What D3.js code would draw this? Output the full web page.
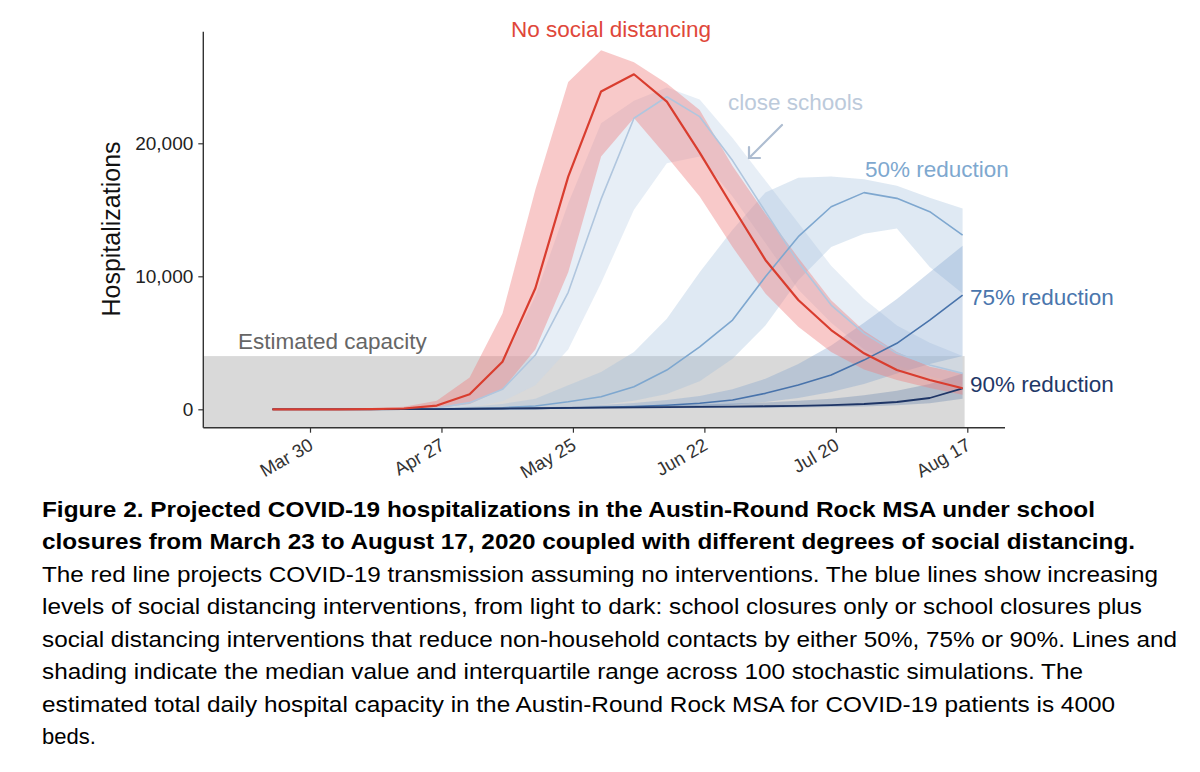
<!DOCTYPE html>
<html>
<head>
<meta charset="utf-8">
<script src="https://cdn.jsdelivr.net/npm/d3@7"></script>
<style>
  html, body { margin: 0; padding: 0; background: #fff; }
  svg { display: block; font-family: "Liberation Sans", Arial, Helvetica, sans-serif; }
</style>
</head>
<body>
<svg id="chart" width="1200" height="772"></svg>
<script>
// ---------------- DATA ----------------
// weekly time points (Sundays), 2020
const startDate = "2020-03-22";
const nWeeks = 22;
const xTickLabels = ["Mar 30", "Apr 27", "May 25", "Jun 22", "Jul 20", "Aug 17"];
const yTickValues = [0, 10000, 20000];
const capacity = 4000;

const seriesNames = ["close schools", "50% reduction", "75% reduction", "90% reduction", "No social distancing"];

const redMed = [0,0,0,10,60,280,1130,3580,9100,17490,23900,25190,23130,19300,15230,11230,8220,5960,4210,2950,2200,1580];
const redHi  = [0,0,10,50,200,650,2400,7200,16500,24600,27000,26100,24500,22500,18300,14700,11400,8200,5900,4300,3200,2700];
const redLo  = [0,0,0,0,20,100,400,1500,4500,10300,19000,21900,19000,16000,12200,8700,6200,4300,3000,2200,1600,1100];

const closeMed = [0,0,0,0,0,100,500,1500,4080,8800,15800,21880,23500,22000,18700,14860,11050,7840,5710,4210,3330,2700];
const closeHi  = [0,0,0,10,50,250,1100,3500,8500,15500,21500,23200,24200,23300,20400,17200,14000,10800,8300,6300,5000,4000];
const closeLo  = [0,0,0,0,0,20,150,600,1800,4500,9500,15000,18500,19000,16000,12500,9000,6500,4500,3300,2500,1900];

const fiftyMed = [0,0,0,0,10,30,60,120,250,570,950,1700,2950,4700,6710,9970,12980,15230,16290,15860,14860,13100];
const fiftyHi  = [0,0,0,10,30,80,200,400,800,1800,2800,4300,6800,10300,13500,16300,17400,17500,17300,16800,15900,15100];
const fiftyLo  = [0,0,0,0,0,10,20,50,100,200,350,650,1150,2100,3800,6300,9700,12200,13200,13600,10700,8700];

const sevMed = [0,0,0,0,0,10,20,40,60,100,150,200,300,450,700,1200,1830,2580,3700,4960,6710,8590];
const sevHi  = [0,0,0,0,10,30,50,90,140,220,330,480,700,1000,1500,2300,3400,4800,6500,8300,10300,12300];
const sevLo  = [0,0,0,0,0,0,10,20,30,50,70,100,150,220,350,550,850,1300,1900,2700,3400,4000];

const ninMed = [0,0,0,0,10,20,40,60,80,100,120,140,160,180,200,230,260,310,400,550,850,1580];
const ninHi  = [0,0,0,0,20,40,70,100,130,170,210,250,300,360,430,520,640,800,1050,1400,1900,2700];
const ninLo  = [0,0,0,0,0,10,20,30,40,50,60,70,80,90,100,120,140,170,220,300,450,800];

const captionBold = [
  "Figure 2. Projected COVID-19 hospitalizations in the Austin-Round Rock MSA under school",
  "closures from March 23 to August 17, 2020 coupled with different degrees of social distancing."
];
const captionText = [
  "The red line projects COVID-19 transmission assuming no interventions. The blue lines show increasing",
  "levels of social distancing interventions, from light to dark: school closures only or school closures plus",
  "social distancing interventions that reduce non-household contacts by either 50%, 75% or 90%. Lines and",
  "shading indicate the median value and interquartile range across 100 stochastic simulations. The",
  "estimated total daily hospital capacity in the Austin-Round Rock MSA for COVID-19 patients is 4000",
  "beds."
];

// ---------------- BUILD ----------------
const parseDay = d3.utcParse("%Y-%m-%d");
const d0 = parseDay(startDate);
const dates = d3.range(nWeeks).map(i => d3.utcDay.offset(d0, 7 * i));
const parseTick = d3.utcParse("%b %d %Y");
const tickDates = xTickLabels.map(l => parseTick(l + " 2020"));

function rows(med, lo, hi) { return dates.map((d, i) => ({ d, m: med[i], lo: lo[i], hi: hi[i] })); }

const series = [
  { name: seriesNames[0], data: rows(closeMed, closeLo, closeHi), line: "#b0c6de", band: "#c6d7ea", bo: 0.42, w: 1.6 },
  { name: seriesNames[1], data: rows(fiftyMed, fiftyLo, fiftyHi), line: "#7ea7cf", band: "#9dbddc", bo: 0.33, w: 1.6 },
  { name: seriesNames[2], data: rows(sevMed, sevLo, sevHi), line: "#4873ab", band: "#7a9fcb", bo: 0.33, w: 1.6 },
  { name: seriesNames[3], data: rows(ninMed, ninLo, ninHi), line: "#1e3566", band: "#4a6ea3", bo: 0.28, w: 1.8 },
  { name: seriesNames[4], data: rows(redMed, redLo, redHi), line: "#d93d2f", band: "#ef7f7f", bo: 0.42, w: 2.2 }
];

const svg = d3.select("#chart");

const x = d3.scaleUtc().domain([tickDates[0], tickDates[tickDates.length - 1]]).range([310, 967.3]);
const y = d3.scaleLinear().domain([-1383, 28390]).range([427.7, 31.7]);
const plotLeft = 203.3, plotRight = 1005, plotTop = 31.7, plotBottom = 427.7;

// capacity band
svg.append("rect")
  .attr("x", plotLeft)
  .attr("y", y(capacity))
  .attr("width", x(dates[dates.length - 1]) + 2 - plotLeft)
  .attr("height", plotBottom - y(capacity))
  .attr("fill", "#d9d9d9");

const area = d3.area().x(d => x(d.d)).y0(d => y(d.lo)).y1(d => y(d.hi));
const line = d3.line().x(d => x(d.d)).y(d => y(d.m));

// bands
svg.append("g").selectAll("path").data(series).join("path")
  .attr("d", s => area(s.data))
  .attr("fill", s => s.band)
  .attr("fill-opacity", s => s.bo);

// lines (blue first, red last)
svg.append("g").selectAll("path").data(series).join("path")
  .attr("d", s => line(s.data))
  .attr("fill", "none")
  .attr("stroke", s => s.line)
  .attr("stroke-width", s => s.w)
  .attr("stroke-linejoin", "round");

// axes
const yAxis = svg.append("g")
  .attr("transform", `translate(${plotLeft},0)`)
  .call(d3.axisLeft(y).tickValues(yTickValues).tickFormat(d3.format(",")).tickSize(5).tickPadding(5));
yAxis.select(".domain").remove();
yAxis.selectAll(".tick line").attr("stroke", "#333").attr("stroke-width", 1.2);
yAxis.selectAll(".tick text").attr("font-size", 19).attr("fill", "#222")
  .attr("font-family", "Liberation Sans, Arial, sans-serif");

const xAxis = svg.append("g")
  .attr("transform", `translate(0,${plotBottom})`)
  .call(d3.axisBottom(x).tickValues(tickDates).tickFormat((d, i) => xTickLabels[i]).tickSize(5));
xAxis.select(".domain").remove();
xAxis.selectAll(".tick line").attr("stroke", "#333").attr("stroke-width", 1.2);
xAxis.selectAll(".tick text")
  .attr("font-size", 18.5).attr("fill", "#333")
  .attr("font-family", "Liberation Sans, Arial, sans-serif")
  .attr("text-anchor", "end")
  .attr("dy", null)
  .attr("y", null)
  .attr("transform", "translate(4,21) rotate(-30)");

svg.append("line").attr("x1", plotLeft).attr("x2", plotLeft).attr("y1", plotTop).attr("y2", plotBottom)
  .attr("stroke", "#333").attr("stroke-width", 1.4);
svg.append("line").attr("x1", plotLeft).attr("x2", plotRight).attr("y1", plotBottom).attr("y2", plotBottom)
  .attr("stroke", "#333").attr("stroke-width", 1.4);

// y title
svg.append("text")
  .attr("transform", "translate(120,229) rotate(-90)")
  .attr("text-anchor", "middle")
  .attr("font-size", 25)
  .attr("fill", "#111")
  .text("Hospitalizations");

// annotations
const ann = [
  { t: "No social distancing", x: 511, y: 37, c: "#e0473a" },
  { t: "close schools", x: 728, y: 110, c: "#bccadb" },
  { t: seriesNames[1], x: 865, y: 177, c: "#7ea8cf" },
  { t: seriesNames[2], x: 970, y: 305, c: "#4a76ad" },
  { t: seriesNames[3], x: 970, y: 391.5, c: "#1f3868" },
  { t: "Estimated capacity", x: 238, y: 348.5, c: "#666666" }
];
svg.append("g").selectAll("text").data(ann).join("text")
  .attr("x", d => d.x).attr("y", d => d.y)
  .attr("font-size", 22.5)
  .attr("fill", d => d.c)
  .text(d => d.t);

// arrow for close schools
const arrow = svg.append("g").attr("stroke", "#aebdd1").attr("stroke-width", 2.2).attr("fill", "none")
  .attr("stroke-linecap", "round");
arrow.append("line").attr("x1", 782).attr("y1", 125).attr("x2", 749).attr("y2", 158);
arrow.append("polyline").attr("points", "749,147 749,158 760,158");

// caption
const cap = svg.append("g").attr("font-size", 22).attr("fill", "#000");
const capEnds = [1095, 1135, 1158, 1142, 1177, 1083, 1115, null];
const capLines = captionBold.map(t => ({ t, b: true })).concat(captionText.map(t => ({ t, b: false })));
cap.selectAll("text").data(capLines).join("text")
  .attr("x", 42)
  .attr("y", (d, i) => 517 + i * 32.43)
  .attr("font-weight", d => d.b ? "bold" : "normal")
  .each(function (d, i) {
    if (capEnds[i]) d3.select(this).attr("textLength", capEnds[i] - 42).attr("lengthAdjust", "spacingAndGlyphs");
  })
  .text(d => d.t);
</script>
</body>
</html>
